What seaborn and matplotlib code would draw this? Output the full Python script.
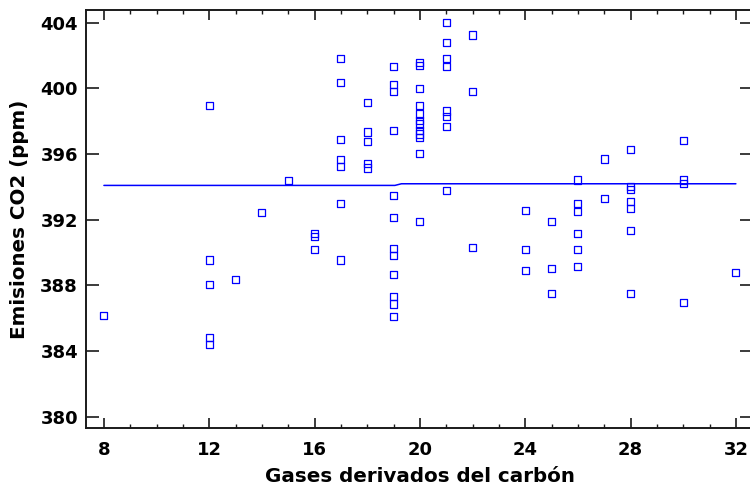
import matplotlib
matplotlib.use("Agg")
import matplotlib.pyplot as plt
from matplotlib.ticker import MultipleLocator
import seaborn as sns
import pandas as pd

# Observations: coal-derived gases vs CO2 emissions
gases = [8,
         12, 12, 12, 12, 12,
         13, 14, 15,
         16, 16, 16,
         17, 17, 17, 17, 17, 17, 17,
         18, 18, 18, 18, 18,
         19, 19, 19, 19, 19, 19, 19, 19, 19, 19, 19, 19,
         20, 20, 20, 20, 20, 20, 20, 20, 20, 20, 20, 20,
         21, 21, 21, 21, 21, 21, 21, 21,
         22, 22, 22,
         24, 24, 24,
         25, 25, 25,
         26, 26, 26, 26, 26, 26,
         27, 27,
         28, 28, 28, 28, 28, 28, 28,
         30, 30, 30, 30,
         32]
emisiones = [386.18,
             398.95, 389.55, 388.04, 384.84, 384.43,
             388.37, 392.45, 394.40,
             391.19, 390.99, 390.20,
             401.83, 400.35, 396.90, 395.68, 395.23, 393.00, 389.55,
             399.13, 397.34, 396.78, 395.43, 395.15,
             401.32, 400.25, 399.80, 397.42, 393.45, 392.15, 390.26, 389.85,
             388.68, 387.31, 386.87, 386.10,
             401.56, 401.41, 400.00, 398.95, 398.44, 398.07, 397.83, 397.42,
             397.22, 397.02, 396.05, 391.92,
             404.00, 402.80, 401.83, 401.32, 398.62, 398.28, 397.67, 393.77,
             403.25, 399.80, 390.30,
             392.59, 390.20, 388.90,
             391.92, 389.02, 387.50,
             394.42, 393.00, 392.49, 391.17, 390.20, 389.14,
             395.70, 393.30,
             396.25, 394.02, 393.84, 393.10, 392.70, 391.37, 387.52,
             396.80, 394.42, 394.18, 386.95,
             388.77]

# Fitted model curve
ajuste_x = [8, 19.05, 19.3, 32]
ajuste_y = [394.09, 394.09, 394.19, 394.19]

x_ticks = [8, 12, 16, 20, 24, 28, 32]
y_ticks = [380, 384, 388, 392, 396, 400, 404]

sns.set_style("ticks")
plt.rcParams["font.family"] = ["DejaVu Sans"]
plt.rcParams["font.weight"] = "bold"
plt.rcParams["text.color"] = "black"
plt.rcParams["axes.labelcolor"] = "black"

AZUL = "#0000ff"

df = pd.DataFrame({"gases": gases, "emisiones": emisiones})
fit = pd.DataFrame({"x": ajuste_x, "y": ajuste_y})

fig = plt.figure(figsize=(7.5, 4.94), dpi=100)
ax = fig.add_axes([86 / 750, 66 / 494, (753 - 86) / 750, (428 - 10) / 494])

sns.lineplot(data=fit, x="x", y="y", ax=ax, color=AZUL, linewidth=1.1,
             estimator=None, sort=False)
sns.scatterplot(data=df, x="gases", y="emisiones", ax=ax, marker="s", s=26,
                facecolor="none", edgecolor=AZUL, linewidth=0.9, zorder=3)

ax.set_xlim(7.32, 32.65)
ax.set_ylim(379.32, 404.77)
ax.set_xticks(x_ticks)
ax.set_yticks(y_ticks)
ax.xaxis.set_minor_locator(MultipleLocator(1))

for s in ax.spines.values():
    s.set_visible(True)
    s.set_linewidth(1.4)
    s.set_color("#1a1a1a")

ax.tick_params(axis="x", which="major", direction="in", length=7.2, width=1.2,
               top=True, bottom=True, labelsize=13, pad=9, colors="#1a1a1a",
               labelcolor="black")
ax.tick_params(axis="x", which="minor", direction="in", length=3.1, width=1.0,
               top=True, bottom=True, colors="#1a1a1a")
ax.tick_params(axis="y", which="major", direction="in", length=9.4, width=1.2,
               left=True, right=True, labelsize=13, pad=5.8, colors="#1a1a1a",
               labelcolor="black")
for lbl in ax.get_xticklabels() + ax.get_yticklabels():
    lbl.set_fontweight("bold")

ax.set_xlabel("Gases derivados del carbón", fontsize=14.3, fontweight="bold",
              labelpad=6, color="black")
ax.set_ylabel("Emisiones CO2 (ppm)", fontsize=14.3, fontweight="bold",
              labelpad=8, color="black")

fig.savefig("out.png", dpi=100)
